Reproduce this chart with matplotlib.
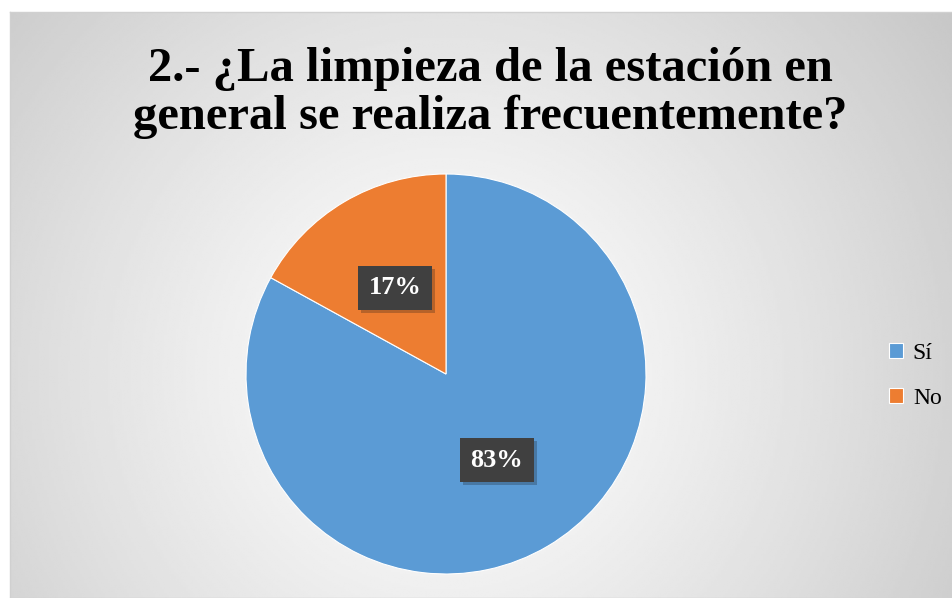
import numpy as np
import matplotlib.pyplot as plt
import matplotlib.patheffects as pe

# Datos
categorias = ["Sí", "No"]
valores = [83, 17]
colores = ["#5B9BD5", "#ED7D31"]
titulo = "2.- ¿La limpieza de la estación en\ngeneral se realiza frecuentemente?"

W, H = 953, 598
fig = plt.figure(figsize=(W / 100, H / 100), dpi=100)

# Fondo con degradado radial (área del gráfico)
bg = fig.add_axes([10 / W, 0, 1 - 10 / W, (H - 12) / H])
gx, gy = np.meshgrid(np.linspace(0, 1, 400), np.linspace(0, 1, 300))
cx, cy = (446 - 10) / (W - 10), (374 - 12) / (H - 12)
d = np.sqrt(((gx - cx) * 1.6) ** 2 + ((gy - cy) * 1.0) ** 2)
d = np.clip(d / d.max(), 0, 1)
grad = 1.0 - 0.22 * d ** 1.2
bg.imshow(grad, cmap="gray", vmin=0, vmax=1, aspect="auto",
          extent=[0, 1, 1, 0], interpolation="bilinear")
bg.set_xticks([])
bg.set_yticks([])
for s in bg.spines.values():
    s.set_color("#d0d0d0")
    s.set_linewidth(1)

# Título
fig.text(490 / W, 1 - 93 / H, titulo, ha="center", va="center",
         fontsize=35, fontweight="bold", family="Liberation Serif",
         linespacing=1.1)

# Pastel
ax = fig.add_axes([246 / W, 24 / H, 400 / W, 400 / H])
wedges, _, autotexts = ax.pie(
    valores, colors=colores, startangle=90, counterclock=False,
    autopct="%1.0f%%", pctdistance=0.5,
    wedgeprops=dict(edgecolor="white", linewidth=0.8),
    textprops=dict(color="white", fontsize=19, fontweight="bold",
                   family="Liberation Serif"))
ax.set_xlim(-1, 1)
ax.set_ylim(-1, 1)

for t in autotexts:
    t.set_bbox(dict(boxstyle="square,pad=0.4", facecolor="#404040",
                    edgecolor="none"))
    t.get_bbox_patch().set_path_effects(
        [pe.SimplePatchShadow(offset=(2, -2), alpha=0.25), pe.Normal()])

# Leyenda
fig.legend(wedges, categorias, loc="center left",
           bbox_to_anchor=(868 / W, 1 - 376 / H), frameon=False,
           prop=dict(family="Liberation Serif", size=17),
           handlelength=0.6, handleheight=0.6, handletextpad=0.4,
           labelspacing=1.0)

fig.savefig("out.png", dpi=100)
